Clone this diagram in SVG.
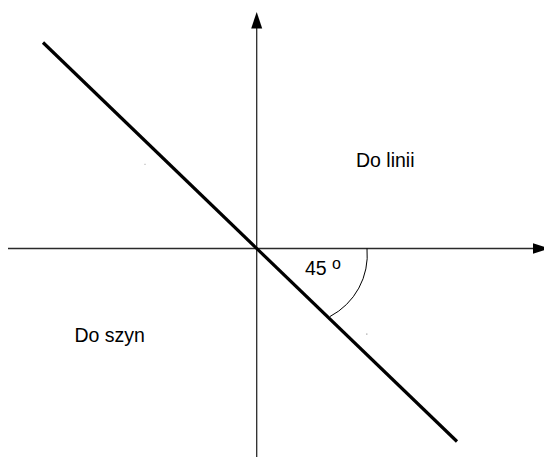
<svg xmlns="http://www.w3.org/2000/svg" width="544" height="457" viewBox="0 0 544 457">
<style>
.axis{stroke:#2a2a2a;stroke-width:1.3;fill:none}
.head{fill:#000}
.diag{stroke:#000;stroke-width:3.2;fill:none}
.arc{stroke:#000;stroke-width:1;fill:none}
.lbl{font-family:"Liberation Sans",Arial,sans-serif;font-size:19.5px;fill:#000}
.dot{fill:#999}
</style>
<g id="connectors">
<line class="axis" x1="256.7" y1="26" x2="256.7" y2="457"/>
<polygon class="head" points="256.7,12 262.2,28.5 251.2,28.5"/>
<line class="axis" x1="8" y1="248.5" x2="535" y2="248.5"/>
<polygon class="head" points="550,248.5 533,243.3 533,253.7"/>
<line class="diag" x1="43" y1="42.5" x2="457" y2="441.5"/>
<path class="arc" d="M367,248.5 A69.6,69.6 0 0,1 330,316.5"/>
</g>
<g id="angle-label"><text class="lbl" x="305" y="274.5" font-size="18.5">45 <tspan font-size="16" dy="-6">o</tspan></text></g>
<g id="do-linii"><text class="lbl" x="356" y="167.3">Do linii</text></g>
<g id="do-szyn"><text class="lbl" x="74.5" y="341.7">Do szyn</text></g>
<rect class="dot" x="144.5" y="163.8" width="1" height="1"/>
<rect class="dot" x="366.2" y="333.5" width="1.2" height="1.2"/>
</svg>
